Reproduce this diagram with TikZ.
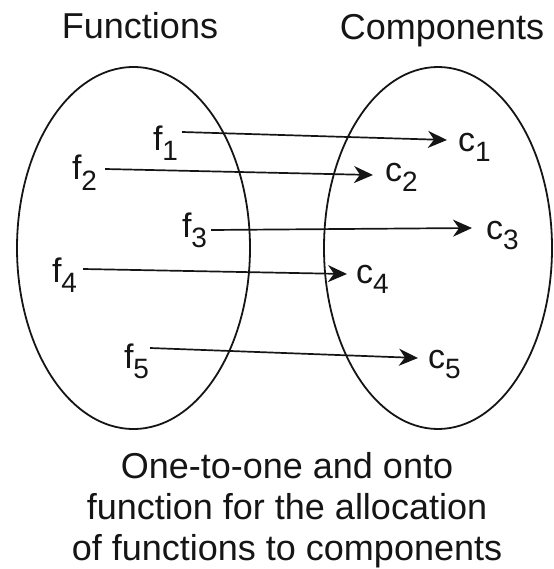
\documentclass[tikz,border=0pt]{standalone}
\usepackage{fontspec}
\setmainfont{Liberation Sans}
\usetikzlibrary{arrows.meta}
\definecolor{allocInk}{HTML}{151515}
\tikzset{
  alloc diagram/.style={
    x=1pt, y=-1pt, draw=allocInk, line width=1.8pt,
    >={Stealth[length=19pt,width=17pt,inset=6pt]},
    every node/.style={font=\fontsize{36}{41}\selectfont,
      text=allocInk, inner sep=0pt, outer sep=0pt}
  },
  alloc set/.style={draw=allocInk, line width=1.8pt},
  alloc map/.style={->, line width=1.7pt, draw=allocInk},
  alloc elem/.style={anchor=base west, font=\fontsize{34}{40}\selectfont}
}
\newcommand{\AllocElem}[2]{#1\raisebox{-10pt}{\fontsize{28}{28}\selectfont #2}}

\begin{document}
\begin{tikzpicture}[alloc diagram]
    \useasboundingbox (0,0) rectangle (553,569);
    \node[anchor=base] (funcTitle) at (140,39) {Functions};
    \node[anchor=base] (compTitle) at (442,40) {Components};
    \draw[alloc set] (133.5,248) ellipse [x radius=116.5pt, y radius=181pt];
    \draw[alloc set] (438,248) ellipse [x radius=114pt, y radius=181pt];
    % functions
    \node[alloc elem] (f1) at (153,151) {\AllocElem{f}{1}};
    \node[alloc elem] (f2) at (72,180) {\AllocElem{f}{2}};
    \node[alloc elem] (f3) at (182,237) {\AllocElem{f}{3}};
    \node[alloc elem] (f4) at (52,282) {\AllocElem{f}{4}};
    \node[alloc elem] (f5) at (124,368) {\AllocElem{f}{5}};
    % components
    \node[alloc elem] (c1) at (458,152) {\AllocElem{c}{1}};
    \node[alloc elem] (c2) at (385,182) {\AllocElem{c}{2}};
    \node[alloc elem] (c3) at (486,239) {\AllocElem{c}{3}};
    \node[alloc elem] (c4) at (356,283) {\AllocElem{c}{4}};
    \node[alloc elem] (c5) at (428,368) {\AllocElem{c}{5}};
    \draw[alloc map] ([xshift=4pt,yshift=19pt]f1.base east)
      -- ([xshift=-11pt,yshift=12pt]c1.base west);
    \draw[alloc map] ([xshift=8pt,yshift=11pt]f2.base east)
      -- ([xshift=-12pt,yshift=7pt]c2.base west);
    \draw[alloc map] ([xshift=4pt,yshift=7pt]f3.base east)
      -- ([xshift=-14pt,yshift=11pt]c3.base west);
    \draw[alloc map] ([xshift=6pt,yshift=13pt]f4.base east)
      -- ([xshift=-9pt,yshift=9pt]c4.base west);
    \draw[alloc map] ([xshift=1pt,yshift=20pt]f5.base east)
      -- ([xshift=-10pt,yshift=10pt]c5.base west);
    \node[align=center, anchor=north] (caption) at (287,452)
      {One-to-one and onto\\function for the allocation\\of functions to components};
\end{tikzpicture}
\end{document}
